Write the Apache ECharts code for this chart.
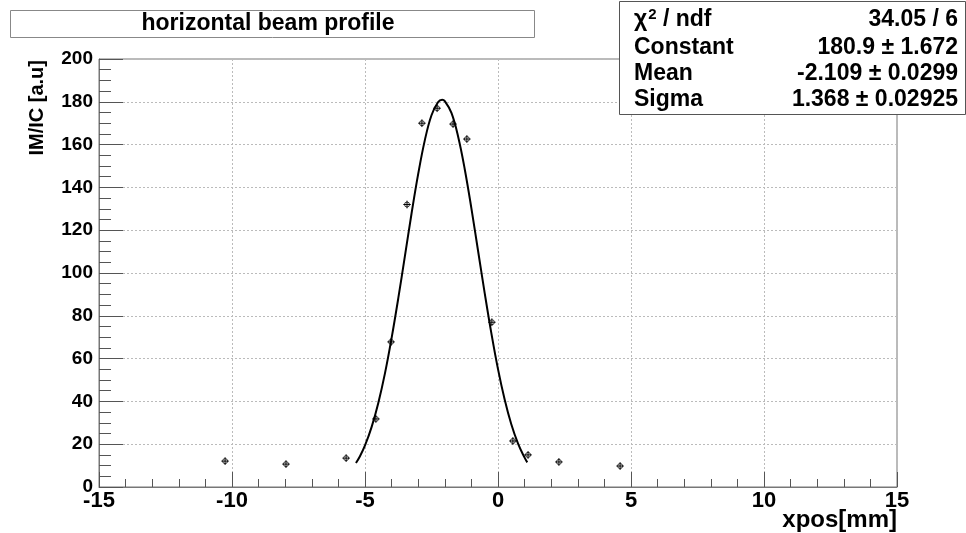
<!DOCTYPE html>
<html>
<head>
<meta charset="utf-8">
<script src="https://cdn.jsdelivr.net/npm/echarts@6/dist/echarts.min.js"></script>
<style>
html,body{margin:0;padding:0;background:#fff;}
#c{width:966px;height:533px;}
</style>
</head>
<body>
<div id="c"></div>
<script>
// measured points
var pointX = [-10.26, -7.97, -5.71, -4.59, -4.02, -3.42, -2.86, -2.29, -1.69, -1.17, -0.23, 0.56, 1.13, 2.29, 4.59];
var pointY = [12.1, 10.7, 13.5, 31.8, 67.8, 132, 170, 177, 169.6, 162.6, 77, 21.5, 15, 11.7, 9.8];
var errX = [0.14, 0.14, 0.14, 0.14, 0.14, 0.14, 0.14, 0.14, 0.14, 0.14, 0.14, 0.14, 0.14, 0.14, 0.14];
var errY = [1.8, 1.8, 1.8, 1.8, 1.8, 1.8, 1.8, 1.8, 1.8, 1.8, 1.8, 1.8, 1.8, 1.8, 1.8];
// gaussian fit curve
var fitX = [-5.34, -5.2, -5.0, -4.75, -4.5, -4.25, -4.0, -3.75, -3.5, -3.25, -3.0, -2.75, -2.5, -2.25, -2.1, -2.0, -1.75, -1.5, -1.25, -1.0, -0.75, -0.5, -0.25, 0, 0.25, 0.5, 0.75, 1.0, 1.1];
var fitY = [11.2, 14.1, 19.4, 28.1, 39.3, 53.1, 69.6, 88.1, 107.9, 127.8, 146.3, 162.1, 173.7, 179.9, 180.9, 180.3, 174.8, 163.8, 148.5, 130.2, 110.4, 90.6, 71.9, 55.1, 40.9, 29.3, 20.4, 13.7, 11.5];
// stats box
var statLabels = ['{g|χ}{s|2}{n| / ndf}', 'Constant', 'Mean', 'Sigma'];
var statValues = ['34.05 / 6', '180.9 ± 1.672', '-2.109 ± 0.0299', '1.368 ± 0.02925'];
var titleText = 'horizontal beam profile';
var xTitle = 'xpos[mm]';
var yTitle = 'IM/IC [a.u]';

var FONT = '"Liberation Sans", Arial, Helvetica, sans-serif';
var chart = echarts.init(document.getElementById('c'), null, {renderer: 'canvas'});

var pts = pointX.map(function (x, i) { return [x, pointY[i], errX[i], errY[i]]; });
var fit = fitX.map(function (x, i) { return [x, fitY[i]]; });

var graphics = [
  {type: 'rect', z: 100, shape: {x: 10.5, y: 10.5, width: 524, height: 27}, style: {fill: '#fff', stroke: '#888', lineWidth: 1}},
  {type: 'text', z: 101, x: 268, y: 24, style: {text: titleText, font: 'bold 23px ' + FONT, fill: '#000', textAlign: 'center', textVerticalAlign: 'middle'}},
  {type: 'rect', z: 100, shape: {x: 619.5, y: 1.5, width: 346, height: 113}, style: {fill: '#fff', stroke: '#555', lineWidth: 1}},
  {type: 'text', z: 101, x: 37, y: 60, rotation: Math.PI / 2, style: {text: yTitle, font: 'bold 20px ' + FONT, fill: '#000', textAlign: 'right', textVerticalAlign: 'middle'}},
  {type: 'text', z: 101, x: 897, y: 520, style: {text: xTitle, font: 'bold 24px ' + FONT, fill: '#000', textAlign: 'right', textVerticalAlign: 'middle'}}
];
var rowY = [20, 48, 74, 100];
var rich = {
  g: {fontFamily: FONT, fontWeight: 'bold', fontSize: 23, fill: '#000'},
  s: {fontFamily: FONT, fontWeight: 'bold', fontSize: 15, fill: '#000', verticalAlign: 'top', padding: [0, 0, 10, 1]},
  n: {fontFamily: FONT, fontWeight: 'bold', fontSize: 23, fill: '#000'}
};
statLabels.forEach(function (s, i) {
  graphics.push({type: 'text', z: 101, x: 634, y: rowY[i], style: {text: s, rich: rich, font: 'bold 23px ' + FONT, fill: '#000', textAlign: 'left', textVerticalAlign: 'middle'}});
  graphics.push({type: 'text', z: 101, x: 958, y: rowY[i], style: {text: statValues[i], font: 'bold 23px ' + FONT, fill: '#000', textAlign: 'right', textVerticalAlign: 'middle'}});
});

var option = {
  backgroundColor: '#fff',
  animation: false,
  grid: {left: 99, right: 69, top: 59, bottom: 46, show: true, borderColor: '#777', borderWidth: 1, backgroundColor: 'transparent', containLabel: false, outerBoundsMode: 'none'},
  xAxis: {
    type: 'value', min: -15, max: 15, interval: 5,
    axisLine: {show: true, onZero: false, lineStyle: {color: '#777', width: 1}},
    axisTick: {show: true, inside: true, length: 15, lineStyle: {color: '#555'}},
    minorTick: {show: true, splitNumber: 5, length: 8, lineStyle: {color: '#555'}},
    splitLine: {show: true, lineStyle: {color: '#bbb', type: [2, 2], width: 1}},
    axisLabel: {fontFamily: FONT, fontWeight: 'bold', fontSize: 22, color: '#000', margin: 3}
  },
  yAxis: {
    type: 'value', min: 0, max: 200, interval: 20,
    axisLine: {show: true, onZero: false, lineStyle: {color: '#777', width: 1}},
    axisTick: {show: true, inside: true, length: 24, lineStyle: {color: '#555'}},
    minorTick: {show: true, splitNumber: 4, length: 12, lineStyle: {color: '#555'}},
    splitLine: {show: true, lineStyle: {color: '#bbb', type: [2, 2], width: 1}},
    axisLabel: {fontFamily: FONT, fontWeight: 'bold', fontSize: 19, color: '#000', margin: 6}
  },
  graphic: graphics,
  series: [
    {
      type: 'line', data: fit, smooth: 0.4, showSymbol: false, symbol: 'none',
      lineStyle: {color: '#000', width: 2}, z: 3
    },
    {
      type: 'custom', data: pts, z: 4,
      renderItem: function (params, api) {
        var x = api.value(0), y = api.value(1), ex = api.value(2), ey = api.value(3);
        var c = api.coord([x, y]);
        var l = api.coord([x - ex, y]), r = api.coord([x + ex, y]);
        var t = api.coord([x, y + ey]), b = api.coord([x, y - ey]);
        var st = {stroke: '#000', lineWidth: 1, fill: null};
        return {type: 'group', children: [
          {type: 'line', shape: {x1: l[0], y1: c[1], x2: r[0], y2: c[1]}, style: st},
          {type: 'line', shape: {x1: c[0], y1: t[1], x2: c[0], y2: b[1]}, style: st},
          {type: 'circle', shape: {cx: c[0], cy: c[1], r: 2.5}, style: {stroke: '#000', lineWidth: 0.8, fill: 'none'}}
        ]};
      }
    }
  ]
};
chart.setOption(option);
</script>
</body>
</html>
